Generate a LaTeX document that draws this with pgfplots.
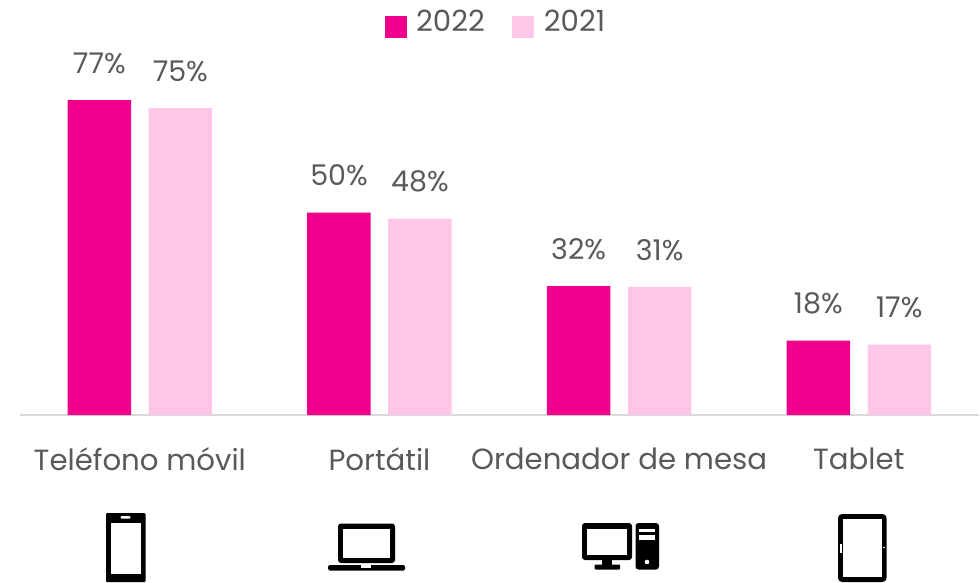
\documentclass[border=0pt]{standalone}
\usepackage{fontspec}
\setmainfont{Poppins}
\usepackage{pgfplots}
\pgfplotsset{compat=1.18}
\definecolor{deep}{HTML}{F0008C}
\definecolor{soft}{HTML}{FFC6E8}
\definecolor{txt}{HTML}{595959}
\definecolor{base}{HTML}{D9D9D9}
\newcommand{\lab}{\fontsize{29.2}{33}\selectfont}
\newcommand{\pct}{\fontsize{28.5}{32}\selectfont}
\begin{document}
\begin{tikzpicture}[x=1pt,y=1pt]
\useasboundingbox (0,0) rectangle (980,582);
\begin{axis}[
  at={(20pt,167pt)},
  anchor=south west,
  scale only axis,
  width=958.6pt,
  height=315pt,
  xmin=-0.5, xmax=3.5,
  ymin=0, ymax=77,
  clip=false,
  axis x line=bottom,
  axis y line=none,
  axis line style={base,line width=1.5pt,-},
  xtick={0,1,2,3},
  xticklabels={Teléfono móvil,Portátil,Ordenador de mesa,Tablet},
  xtick style={draw=none},
  xticklabel style={font=\lab,text=txt,anchor=center,yshift=-40pt},
  ybar,
  bar width=63.5pt,
  point meta=explicit symbolic,
  nodes near coords,
  every node near coord/.append style={font=\pct,text=txt,anchor=center,yshift=37pt},
  legend style={draw=none,fill=none,at={(365pt,407pt)},anchor=north west,font=\lab,text=txt,
    legend columns=2,inner sep=0pt,
    /tikz/column 1/.style={column sep=7pt},
    /tikz/column 2/.style={column sep=25pt},
    /tikz/column 3/.style={column sep=8pt}},
  legend image code/.code={\fill[#1] (0pt,-16pt) rectangle (22pt,6pt);},
]
\addplot[fill=deep,draw=none,bar shift=-40.5pt] coordinates {(0,77)[77\%] (1,49.5)[50\%] (2,31.5)[32\%] (3,18.2)[18\%]};
\addplot[fill=soft,draw=none,bar shift=40.5pt] coordinates {(0,75)[75\%] (1,48)[48\%] (2,31.3)[31\%] (3,17.2)[17\%]};
\legend{2022,2021}
\end{axis}
% device icons, in pixel positions of the picture
\begin{scope}[shift={(0,582)},y=-1pt]
  % phone
  \fill[black,rounded corners=1pt] (106,513) rectangle (145.5,582);
  \fill[white] (110.5,522.5) rectangle (140.5,574);
  \fill[white,rounded corners=1pt] (120.5,516) rectangle (130.5,518.5);
  % laptop
  \fill[black,rounded corners=3pt] (338,523.5) rectangle (395,563);
  \fill[white] (343,529) rectangle (390,557.5);
  \fill[black,rounded corners=1.5pt] (328,565) rectangle (405,570.5);
  \fill[white] (361,565) rectangle (371,567.5);
  % desktop
  \fill[black,rounded corners=3pt] (582,523) rectangle (632,560);
  \fill[white] (587,528.5) rectangle (627,554.5);
  \fill[black] (602,560) rectangle (612,565);
  \fill[black,rounded corners=1pt] (594.5,564.5) rectangle (620,569.5);
  \fill[black,rounded corners=3pt] (635.5,523) rectangle (659,569.5);
  \fill[white] (638.5,529) rectangle (655,531.5);
  \fill[white] (638.5,535) rectangle (655,540);
  \fill[white] (647,562) circle (2.3);
  % tablet
  \fill[black,rounded corners=4pt] (838,514) rectangle (886.5,582);
  \fill[white] (843,519) rectangle (881.5,576.5);
  \fill[white] (840,543.5) rectangle (841.8,552.5);
  \fill[white] (884,547.5) circle (0.8);
\end{scope}
\end{tikzpicture}
\end{document}
